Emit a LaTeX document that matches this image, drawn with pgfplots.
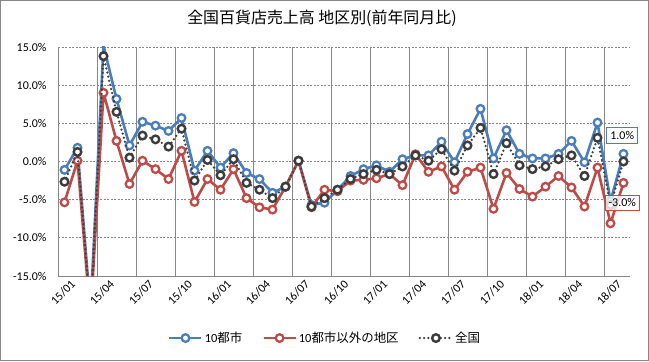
\documentclass[border=0pt]{standalone}
\usepackage{fontspec}
\setmainfont{Carlito}
\newfontfamily\cjk{Noto Sans CJK JP}
\usepackage{pgfplots}
\usepackage{pgfplotstable}
\pgfplotsset{compat=1.18}
\definecolor{cblue}{HTML}{4A7EBB}
\definecolor{cred}{HTML}{BE4B48}
\definecolor{cdark}{HTML}{3C3C3C}
\definecolor{cgrid}{HTML}{868686}

\pgfplotstableread{
i blue red all
0 -1.1 -5.35 -2.65
1 1.8 0.1 1.25
2 -19.5 -20.5 -20
3 15.2 9.0 13.8
4 8.2 2.7 6.5
5 2.1 -2.95 0.5
6 5.2 0.1 3.4
7 4.7 -1.0 2.9
8 4.0 -2.3 1.95
9 5.7 1.4 4.3
10 -1.2 -5.3 -2.5
11 1.4 -2.3 0.2
12 -0.8 -3.7 -1.8
13 1.1 -1.0 0.3
14 -1.5 -4.8 -2.8
15 -2.3 -6.0 -3.7
16 -4.1 -6.3 -4.8
17 -3.3 -3.3 -3.3
18 0.1 0.1 0.1
19 -5.7 -6.0 -5.9
20 -5.4 -3.7 -4.8
21 -3.7 -3.9 -3.7
22 -1.9 -2.5 -2.3
23 -1.0 -2.4 -1.65
24 -0.5 -2.2 -1.1
25 -1.35 -1.65 -1.65
26 0.3 -3.1 -0.65
27 0.8 0.95 0.8
28 0.8 -1.35 0.1
29 2.6 -0.65 1.6
30 -0.1 -3.7 -1.2
31 3.6 -1.35 2.1
32 6.9 -0.8 4.4
33 0.4 -6.2 -1.65
34 4.1 -1.5 2.4
35 1.0 -3.6 -0.5
36 0.4 -4.6 -1.0
37 0.4 -3.3 -0.65
38 1.0 -1.9 0.3
39 2.7 -3.4 0.8
40 -0.1 -5.9 -1.9
41 5.1 -0.8 3.1
42 -5.2 -8.1 -5.7
43 1.0 -2.8 0.0
}\data

\begin{document}
\begin{tikzpicture}[x=1bp,y=1bp]
\useasboundingbox (0,0) rectangle (649,361);
\draw[cgrid, line width=1bp] (0.5,0.5) rectangle (648.5,360.5);
\node[font=\cjk\fontsize{16}{18}\selectfont] at (322,343) {全国百貨店売上高 地区別(前年同月比)};
\begin{axis}[
  at={(58bp,85bp)}, anchor=south west,
  scale only axis, width=572bp, height=229bp,
  xmin=-0.5, xmax=43.5, ymin=-15, ymax=15,
  axis lines*=left,
  axis line style={cgrid, line width=1bp},
  major tick length=0pt, minor tick length=0pt,
  /pgf/number format/assume math mode=true,
  ytick={-15,-10,...,15},
  yticklabel={\pgfmathprintnumber[fixed,fixed zerofill,precision=1]{\tick}\%},
  yticklabel style={font=\fontsize{12}{14}\selectfont, xshift=-8bp},
  xtick={0,3,...,42},
  xticklabels={15/01,15/04,15/07,15/10,16/01,16/04,16/07,16/10,17/01,17/04,17/07,17/10,18/01,18/04,18/07},
  xticklabel style={font=\fontsize{12}{14}\selectfont, rotate=45, anchor=north east, inner sep=1bp, xshift=3bp, yshift=-5bp},
  minor xtick={2.5,5.5,...,41.5},
  xminorgrids=true,
  minor x grid style={cgrid, solid, line width=1bp},
  ymajorgrids,
  y grid style={cgrid, dash pattern=on 2bp off 1.5bp, line width=0.9bp},
  clip mode=individual,
  clip marker paths=true,
  legend columns=3,
  legend style={at={(0.467,-0.271)}, anchor=center, draw=none, fill=none,
    font=\fontsize{12.5}{14}\selectfont,
    /tikz/every even column/.append style={column sep=18bp}},
  legend image code/.code={\draw[mark repeat=2,mark phase=2] plot coordinates {(0bp,0bp)(16bp,0bp)(32bp,0bp)};},
]
\addplot[cblue, line width=2.6bp, mark=*, mark size=3.8bp, mark options={solid, fill=white, line width=2.3bp}] table[x=i,y=blue]{\data};
\addlegendentry{10{\cjk 都市}}
\addplot[cred, line width=2.6bp, mark=*, mark size=3.8bp, mark options={solid, fill=white, line width=2.3bp}] table[x=i,y=red]{\data};
\addlegendentry{10{\cjk 都市以外の地区}}
\addplot[cdark, line width=2.5bp, line cap=round, dash pattern=on 0bp off 4.2bp, mark=*, mark size=3.8bp, mark options={solid, fill=white, line width=2.4bp}] table[x=i,y=all]{\data};
\addlegendentry{{\cjk 全国}}
\node[draw=cblue, fill=white, line width=0.9bp, font=\fontsize{12}{14}\selectfont, inner sep=3.5bp] at (axis cs:42.9,3.4) {1.0\%};
\node[draw=cred, fill=white, fill opacity=0.8, text opacity=1, line width=0.9bp, font=\fontsize{12}{14}\selectfont, inner sep=3.5bp] at (axis cs:42.9,-5.4) {-3.0\%};
\end{axis}
\end{tikzpicture}
\end{document}
